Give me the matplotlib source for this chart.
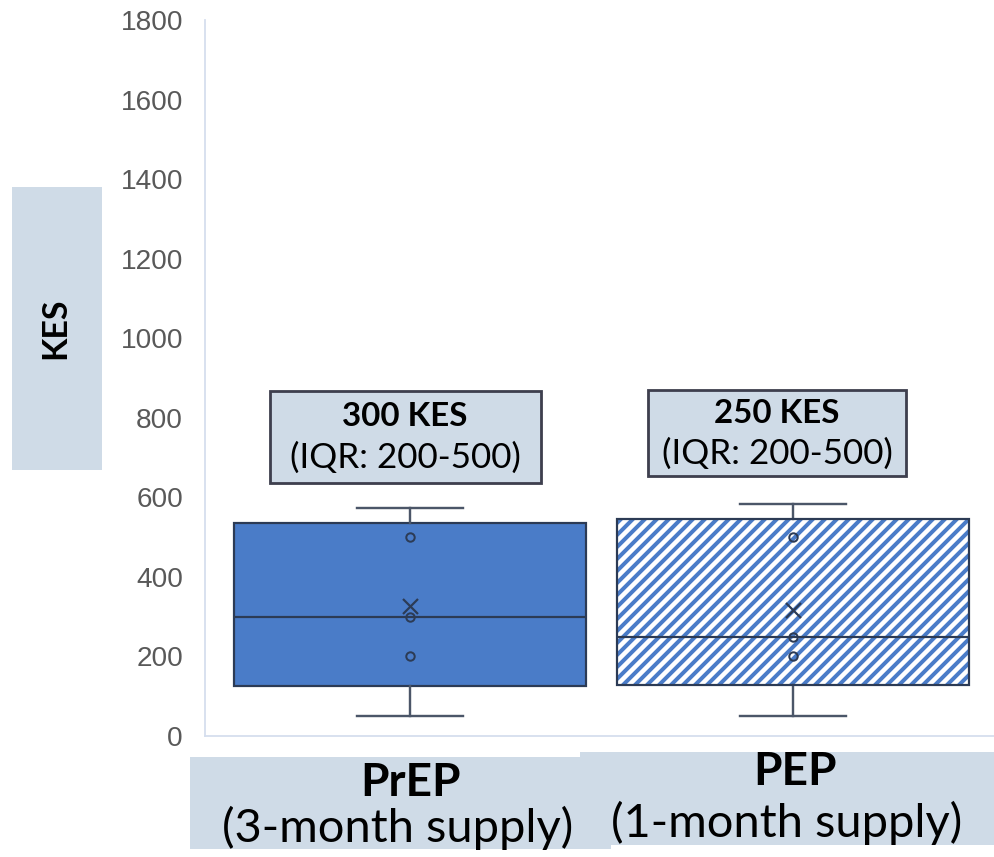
import matplotlib
matplotlib.use("Agg")
import matplotlib.pyplot as plt
from matplotlib.patches import Rectangle, PathPatch
from matplotlib.transforms import Affine2D

# ---- data -------------------------------------------------------------
categories = ["PrEP", "PEP"]
supply_labels = ["(3-month supply)", "(1-month supply)"]
medians = [300, 250]
q1_values = [126, 128]
q3_values = [535, 545]
whisker_low = [50, 50]
whisker_high = [573, 583]
means = [327, 316]
inner_points = [[200, 300, 500], [200, 250, 500]]
iqr_low = [200, 200]
iqr_high = [500, 500]
y_ticks = [0, 200, 400, 600, 800, 1000, 1200, 1400, 1600, 1800]
y_label = "KES"

# ---- style ------------------------------------------------------------
W, H, DPI = 994, 857, 144
BLUE = "#4A7CC8"
DARK = "#2C3B55"
WHISK = "#4B5668"
PANEL = "#CFDBE7"
FRAME = "#3E3F4E"
SPINE = "#D5DEEE"
TICK = "#595959"
TEXT_FONT = ["Lato", "DejaVu Sans"]
TICK_FONT = ["Liberation Sans", "DejaVu Sans"]

plt.rcParams["hatch.linewidth"] = 2.0

fig = plt.figure(figsize=(W / DPI, H / DPI), dpi=DPI)
fig.patch.set_facecolor("white")

# transform for layout in top-left-origin pixel coordinates
px = Affine2D().scale(1, -1).translate(0, H).scale(1 / W, 1 / H) + fig.transFigure

ax_left, ax_right, ax_top, ax_bottom = 205, 994, 20, 736
ax = fig.add_axes([ax_left / W, (H - ax_bottom) / H,
                   (ax_right - ax_left) / W, (ax_bottom - ax_top) / H])
ax.set_ylim(0, 1800)
ax.set_xlim(0.465, 2.525)

positions = [1, 2]
stats = []
for i in range(len(categories)):
    stats.append(dict(med=medians[i], q1=q1_values[i], q3=q3_values[i],
                      whislo=whisker_low[i], whishi=whisker_high[i],
                      mean=means[i], fliers=[], label=categories[i]))

bp = ax.bxp(stats, positions=positions, widths=0.92, capwidths=0.277,
            patch_artist=True, showmeans=True, showfliers=False,
            boxprops=dict(edgecolor=DARK, linewidth=1.1),
            medianprops=dict(color=DARK, linewidth=1.1, zorder=3),
            whiskerprops=dict(color=WHISK, linewidth=1.2),
            capprops=dict(color=WHISK, linewidth=1.2),
            meanprops=dict(marker="x", markeredgecolor=DARK,
                           markerfacecolor="none", markersize=7.5,
                           markeredgewidth=1.1, zorder=4))

# solid box for PrEP
bp["boxes"][0].set_facecolor(BLUE)

# hatched box for PEP, outlined separately so the hatch keeps its blue
hb = bp["boxes"][1]
hb.set_facecolor("white")
hb.set_edgecolor(BLUE)
hb.set_hatch("////")
hb.set_linewidth(0)
ax.add_patch(PathPatch(hb.get_path(), transform=hb.get_transform(),
                       facecolor="none", edgecolor=DARK, linewidth=1.1,
                       zorder=2.5))

# individual observations
for pos, pts in zip(positions, inner_points):
    ax.plot([pos] * len(pts), pts, linestyle="none", marker="o",
            markerfacecolor="none", markeredgecolor=DARK, markersize=4.2,
            markeredgewidth=1.0, zorder=4)

# axes styling
for side in ("top", "right"):
    ax.spines[side].set_visible(False)
for side in ("left", "bottom"):
    ax.spines[side].set_color(SPINE)
    ax.spines[side].set_linewidth(0.9)
ax.set_xticks([])
ax.set_yticks(y_ticks)
ax.set_yticklabels([str(v) for v in y_ticks], family=TICK_FONT,
                   fontsize=14, color=TICK)
ax.tick_params(axis="y", length=0, pad=11)

# y-axis label panel
fig.add_artist(Rectangle((12, 187), 90, 283, transform=px,
                         facecolor=PANEL, edgecolor="none"))
fig.text(55, 328, y_label, transform=px, rotation=90, ha="center",
         va="center", family=TEXT_FONT, fontweight="bold", fontsize=17,
         color="black")

# median / IQR callouts
callouts = [
    dict(x=270, y=391, w=271, h=92, cx=405, y1=416, y2=458),
    dict(x=648, y=390, w=258, h=86, cx=777, y1=413, y2=454),
]
for i, c in enumerate(callouts):
    fig.add_artist(Rectangle((c["x"], c["y"]), c["w"], c["h"], transform=px,
                             facecolor=PANEL, edgecolor=FRAME, linewidth=1.4))
    fig.text(c["cx"], c["y1"], f"{medians[i]} KES", transform=px,
             ha="center", va="center", family=TEXT_FONT, fontweight="bold",
             fontsize=16.5, color="black")
    fig.text(c["cx"], c["y2"], f"(IQR: {iqr_low[i]}-{iqr_high[i]})",
             transform=px, ha="center", va="center", family=TEXT_FONT,
             fontsize=17.5, color="black")

# category label bands
bands = [
    dict(x=190, y=757, w=421, h=92, cx1=410, ty1=783, cx2=398, ty2=828),
    dict(x=580, y=752, w=414, h=93, cx1=795, ty1=772, cx2=787, ty2=823),
]
for i, b in enumerate(bands):
    fig.add_artist(Rectangle((b["x"], b["y"]), b["w"], b["h"], transform=px,
                             facecolor=PANEL, edgecolor="none"))
for i, b in enumerate(bands):
    fig.text(b["cx1"], b["ty1"], categories[i], transform=px, ha="center",
             va="center", family=TEXT_FONT, fontweight="bold", fontsize=23,
             color="black", zorder=3)
    fig.text(b["cx2"], b["ty2"], supply_labels[i], transform=px, ha="center",
             va="center", family=TEXT_FONT, fontsize=23.5, color="black",
             zorder=3)

fig.savefig("out.png", dpi=DPI)
